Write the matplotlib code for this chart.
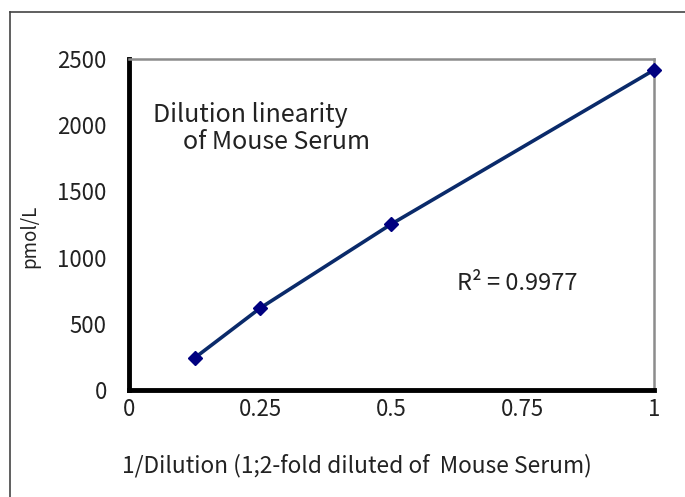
import matplotlib
matplotlib.use("Agg")
import matplotlib.pyplot as plt
from matplotlib.lines import Line2D

plt.rcParams['font.family'] = ['Noto Sans CJK JP', 'DejaVu Sans']

x_vals = [0.125, 0.25, 0.5, 1.0]
y_vals = [242, 619, 1254, 2417]
x_ticks = [0, 0.25, 0.5, 0.75, 1]
x_tick_labels = ["0", "0.25", "0.5", "0.75", "1"]
y_ticks = [0, 500, 1000, 1500, 2000, 2500]
y_tick_labels = ["0", "500", "1000", "1500", "2000", "2500"]

W, H = 685, 497
fig = plt.figure(figsize=(W / 100, H / 100), dpi=100)
ax = fig.add_axes([129 / W, 1 - 390 / H, (654 - 129) / W, (390 - 59) / H])

ax.plot(x_vals, y_vals, color='#0a2a6a', lw=2.6, marker='D', ms=7,
        mfc='#000080', mec='#000080', clip_on=False, zorder=3)

ax.set_xlim(0, 1)
ax.set_ylim(0, 2500)
ax.set_xticks(x_ticks)
ax.set_xticklabels(x_tick_labels)
ax.set_yticks(y_ticks)
ax.set_yticklabels(y_tick_labels)
ax.tick_params(length=0, labelsize=16, colors='#222222')
ax.tick_params(axis='x', pad=6)
ax.tick_params(axis='y', pad=16)

for s in ['top', 'right']:
    ax.spines[s].set_color('#8c8c8c')
    ax.spines[s].set_linewidth(1.8)
for s in ['left', 'bottom']:
    ax.spines[s].set_color('black')
    ax.spines[s].set_linewidth(3.5)

ax.set_ylabel('pmol/L', fontsize=13.5, color='#222222')
ax.yaxis.set_label_coords(-(129 - 30) / (654 - 129), (390 - 236) / (390 - 59))
ax.set_xlabel('1/Dilution (1;2-fold diluted of  Mouse Serum)', fontsize=16.4,
              color='#222222')
ax.xaxis.set_label_coords((357 - 129) / (654 - 129), -(466 - 390) / (390 - 59))
ax.xaxis.label.set_va('center')
ax.yaxis.label.set_va('center')

ax.text((153 - 129) / 525, (390 - 115) / 331, 'Dilution linearity',
        transform=ax.transAxes, fontsize=18, color='#222222', va='center', ha='left')
ax.text((183 - 129) / 525, (390 - 142) / 331, 'of Mouse Serum',
        transform=ax.transAxes, fontsize=18, color='#222222', va='center', ha='left')
ax.text((457 - 129) / 525, (390 - 284) / 331, 'R² = 0.9977', transform=ax.transAxes,
        fontsize=17, color='#222222', va='center', ha='left')

fig.add_artist(Line2D([10 / W, 10 / W], [0, 1 - 12 / H], transform=fig.transFigure,
                      color='#444444', lw=1.2))
fig.add_artist(Line2D([10 / W, 1], [1 - 12 / H, 1 - 12 / H], transform=fig.transFigure,
                      color='#444444', lw=1.2))

fig.savefig('out.png', dpi=100)
